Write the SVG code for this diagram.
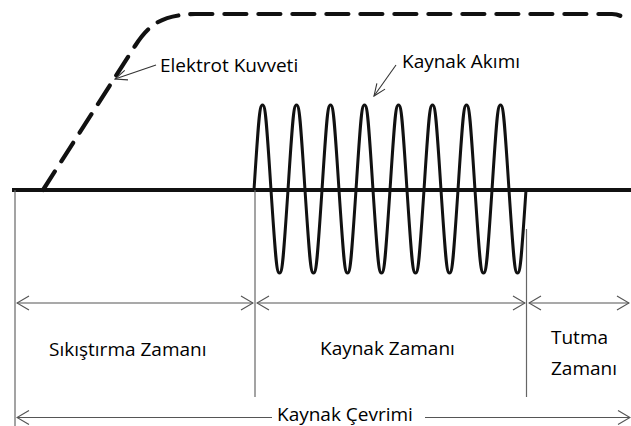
<svg xmlns="http://www.w3.org/2000/svg" width="631" height="426" viewBox="0 0 631 426">
<defs>
<style>
.lbl{font-family:"Open Sans","Liberation Sans",sans-serif;font-size:19px;fill:#000}
.dim{stroke:#555;stroke-width:1.2;fill:none}
.vl{stroke:#666;stroke-width:1.2;fill:none}
.lead{stroke:#333;stroke-width:1.1;fill:none}
</style>
<marker id="arr" viewBox="0 0 14 16" refX="13" refY="8" markerWidth="14" markerHeight="16" markerUnits="userSpaceOnUse" orient="auto-start-reverse">
<path d="M1,1 L13,8 L1,15" fill="none" stroke="#555" stroke-width="1.2"/>
</marker>
<marker id="arr2" viewBox="0 0 14 12" refX="13" refY="6" markerWidth="14" markerHeight="12" markerUnits="userSpaceOnUse" orient="auto">
<path d="M1,1 L13,6 L1,11" fill="none" stroke="#333" stroke-width="1.1"/>
</marker>
</defs>
<rect width="631" height="426" fill="#fff"/>
<g id="curves">
<path id="force" d="M43,190 L135,46 C150,22 165,15 195,14 L612,14 Q622,14 627,22" fill="none" stroke="#111" stroke-width="4.2" stroke-dasharray="22 12" stroke-linecap="round"/>
<path id="current" fill="none" stroke="#111" stroke-width="3" d="M254,190
c4.5,-70 5.5,-85 8.5,-85 c3,0 4,15 8.5,85 c4.5,68 5.5,83 8.5,83 c3,0 4,-15 8.5,-83
c4.5,-70 5.5,-85 8.5,-85 c3,0 4,15 8.5,85 c4.5,68 5.5,83 8.5,83 c3,0 4,-15 8.5,-83
c4.5,-70 5.5,-85 8.5,-85 c3,0 4,15 8.5,85 c4.5,68 5.5,83 8.5,83 c3,0 4,-15 8.5,-83
c4.5,-70 5.5,-85 8.5,-85 c3,0 4,15 8.5,85 c4.5,68 5.5,83 8.5,83 c3,0 4,-15 8.5,-83
c4.5,-70 5.5,-85 8.5,-85 c3,0 4,15 8.5,85 c4.5,68 5.5,83 8.5,83 c3,0 4,-15 8.5,-83
c4.5,-70 5.5,-85 8.5,-85 c3,0 4,15 8.5,85 c4.5,68 5.5,83 8.5,83 c3,0 4,-15 8.5,-83
c4.5,-70 5.5,-85 8.5,-85 c3,0 4,15 8.5,85 c4.5,68 5.5,83 8.5,83 c3,0 4,-15 8.5,-83
c4.5,-70 5.5,-85 8.5,-85 c3,0 4,15 8.5,85 c4.5,68 5.5,83 8.5,83 c3,0 4,-15 8.5,-83"/>
<line id="baseline" x1="12" y1="190" x2="631" y2="190" stroke="#111" stroke-width="4"/>
</g>
<g id="connectors">
<line class="vl" x1="15" y1="190" x2="15" y2="426"/>
<line class="vl" x1="255" y1="190" x2="255" y2="397"/>
<line class="vl" x1="526.5" y1="229" x2="526.5" y2="397"/>
<line class="dim" x1="17" y1="303" x2="253" y2="303" marker-start="url(#arr)" marker-end="url(#arr)"/>
<line class="dim" x1="257" y1="303" x2="525" y2="303" marker-start="url(#arr)" marker-end="url(#arr)"/>
<line class="dim" x1="529" y1="303" x2="629" y2="303" marker-start="url(#arr)" marker-end="url(#arr)"/>
<line class="dim" x1="17" y1="417.5" x2="272" y2="417.5" marker-start="url(#arr)"/>
<line class="dim" x1="425" y1="417.5" x2="630" y2="417.5" marker-end="url(#arr)"/>
<line class="lead" x1="156" y1="65" x2="115" y2="79" marker-end="url(#arr2)"/>
<line class="lead" x1="396" y1="65" x2="374" y2="96" marker-end="url(#arr2)"/>
</g>
<g id="label-force"><text class="lbl" x="160" y="71.5">Elektrot Kuvveti</text></g>
<g id="label-current"><text class="lbl" x="402" y="68">Kaynak Akımı</text></g>
<g id="label-squeeze"><text class="lbl" x="49" y="355.5">Sıkıştırma Zamanı</text></g>
<g id="label-weld"><text class="lbl" x="320" y="355">Kaynak Zamanı</text></g>
<g id="label-hold"><text class="lbl" x="551" y="344">Tutma</text><text class="lbl" x="551" y="375">Zamanı</text></g>
<g id="label-cycle"><text class="lbl" x="277" y="421">Kaynak Çevrimi</text></g>
</svg>
